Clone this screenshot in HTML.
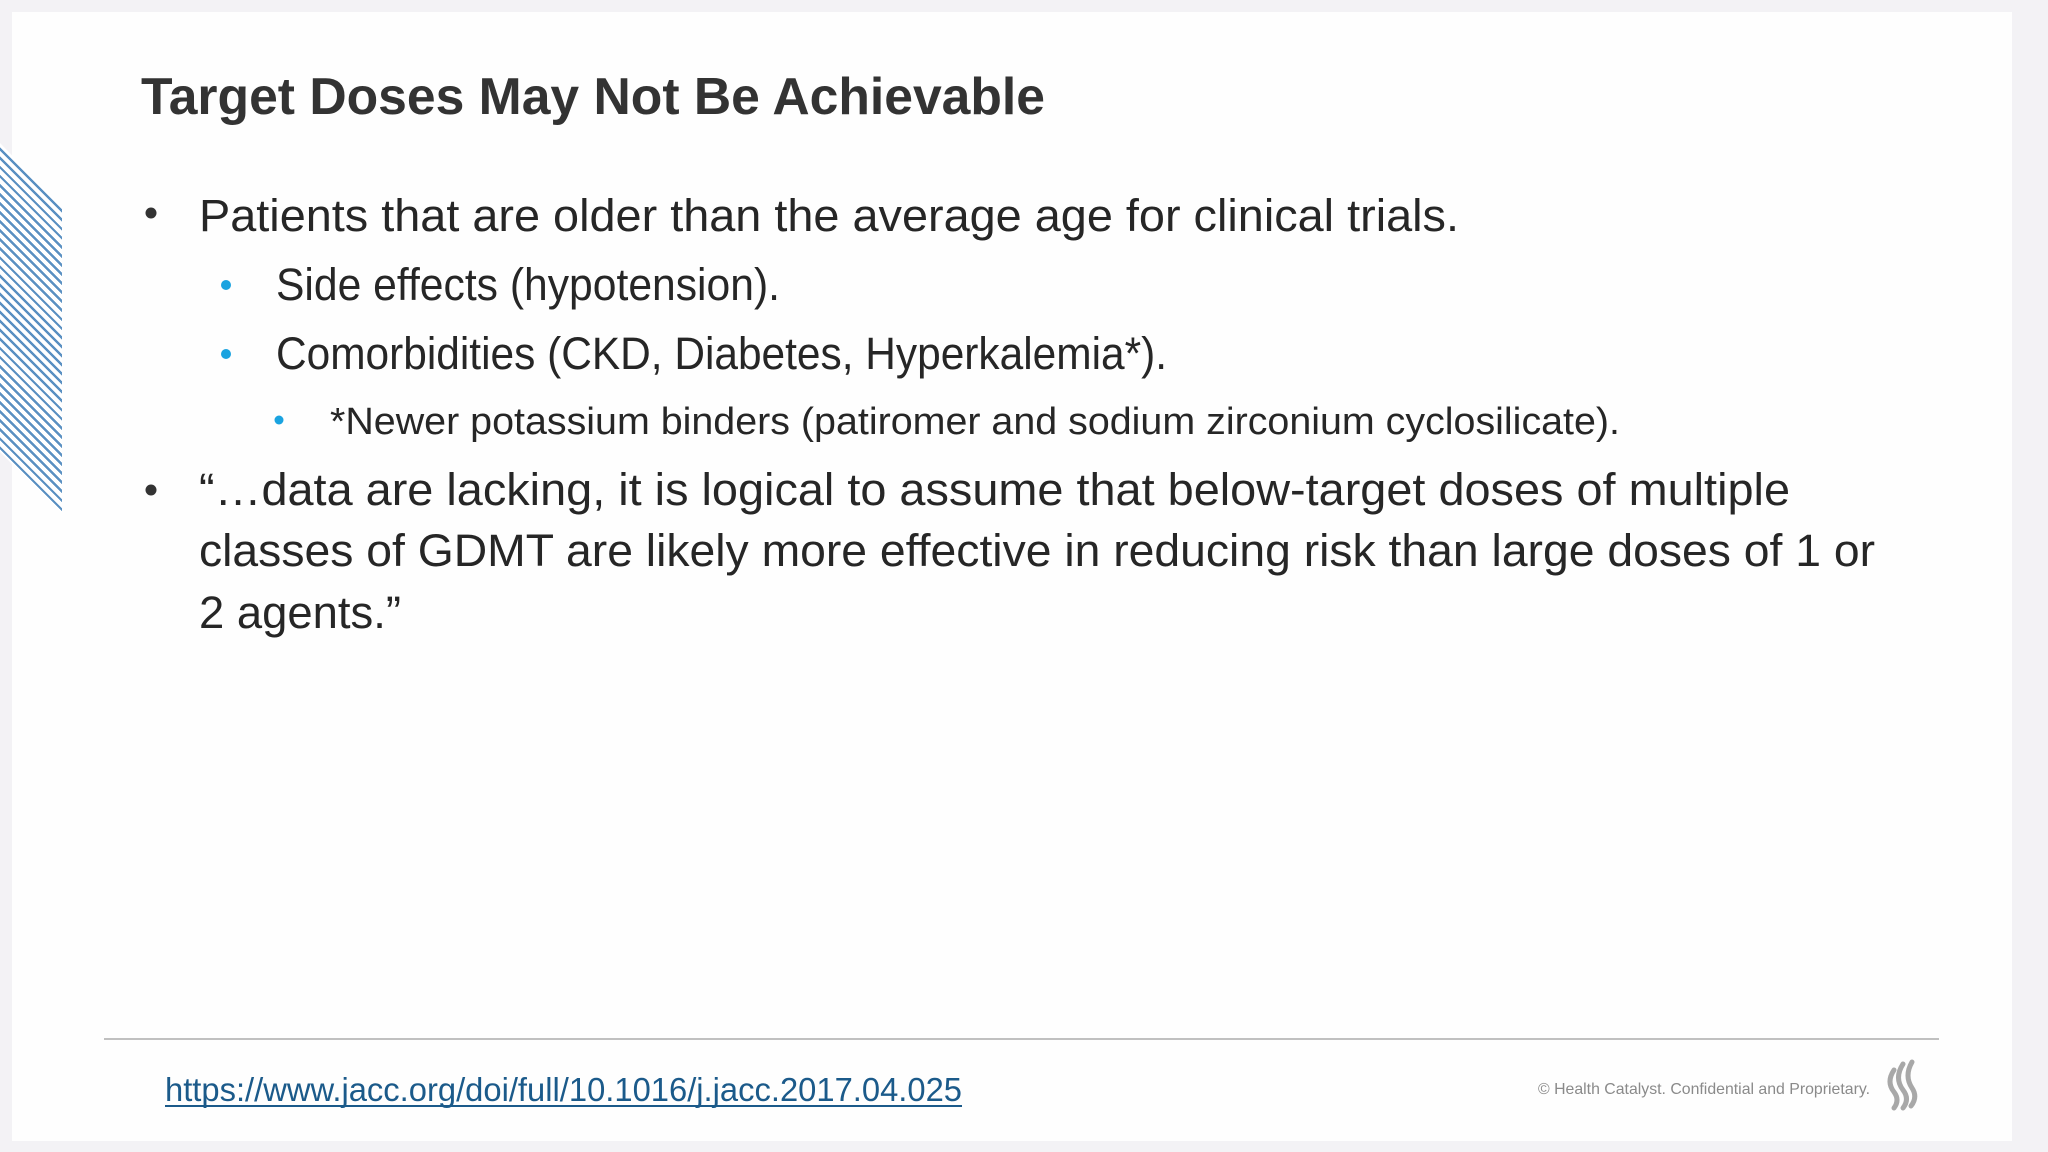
<!DOCTYPE html>
<html><head><meta charset="utf-8"><style>
html,body{margin:0;padding:0;width:2048px;height:1152px;overflow:hidden;background:#f3f2f5}
#slide{position:absolute;left:12px;top:12px;width:2000px;height:1129px;background:#fefefe}
#stripes{position:absolute;left:0;top:0;width:62px;height:540px;
background:repeating-linear-gradient(45deg,#5a90c2 0 2.4px,#ffffff 2.4px 6.4px);
clip-path:polygon(0 143px,62px 207px,62px 514px,0 452px)}
svg{position:absolute;left:0;top:0}
</style></head><body>
<div id="slide"></div>
<div id="stripes"></div>
<svg width="2048" height="1152" font-family="'Liberation Sans', sans-serif">
<text x="141" y="114" font-size="52" font-weight="bold" fill="#333" textLength="904" lengthAdjust="spacingAndGlyphs">Target Doses May Not Be Achievable</text>
<g fill="#262626" font-size="45">
<circle cx="151" cy="213" r="5.5" fill="#333"/>
<text x="199" y="231" textLength="1260" lengthAdjust="spacingAndGlyphs">Patients that are older than the average age for clinical trials.</text>
<circle cx="226" cy="285" r="5" fill="#1aa3e0"/>
<text x="276" y="300" textLength="504" lengthAdjust="spacingAndGlyphs">Side effects (hypotension).</text>
<circle cx="226" cy="354" r="5" fill="#1aa3e0"/>
<text x="276" y="369" textLength="891" lengthAdjust="spacingAndGlyphs">Comorbidities (CKD, Diabetes, Hyperkalemia*).</text>
<circle cx="279" cy="420" r="4.5" fill="#1aa3e0"/>
<text x="330" y="434" font-size="38" textLength="1290" lengthAdjust="spacingAndGlyphs">*Newer potassium binders (patiromer and sodium zirconium cyclosilicate).</text>
<circle cx="151" cy="490" r="5.5" fill="#333"/>
<text x="199" y="505" textLength="1591" lengthAdjust="spacingAndGlyphs">“…data are lacking, it is logical to assume that below-target doses of multiple</text>
<text x="199" y="566" textLength="1676" lengthAdjust="spacingAndGlyphs">classes of GDMT are likely more effective in reducing risk than large doses of 1 or</text>
<text x="199" y="628" textLength="202" lengthAdjust="spacingAndGlyphs">2 agents.”</text>
</g>
<line x1="104" y1="1039" x2="1939" y2="1039" stroke="#c0c0c0" stroke-width="2"/>
<text x="165" y="1101" font-size="33" fill="#1b5a8a" textLength="797" lengthAdjust="spacingAndGlyphs">https://www.jacc.org/doi/full/10.1016/j.jacc.2017.04.025</text>
<line x1="165" y1="1106" x2="962" y2="1106" stroke="#1b5a8a" stroke-width="2"/>
<text x="1538" y="1094" font-size="16" fill="#8a8a8a" textLength="332" lengthAdjust="spacingAndGlyphs">© Health Catalyst. Confidential and Proprietary.</text>
<g fill="none" stroke="#a8a8a8" stroke-width="5" stroke-linecap="round">
<path d="M1894 1070 q-8 12 0 22 q6 8 0 16"/>
<path d="M1903 1064 q-9 14 0 26 q7 9 0 18"/>
<path d="M1912 1062 q-8 14 0 26 q6 9 -1 18"/>
</g>
</svg>
</body></html>
